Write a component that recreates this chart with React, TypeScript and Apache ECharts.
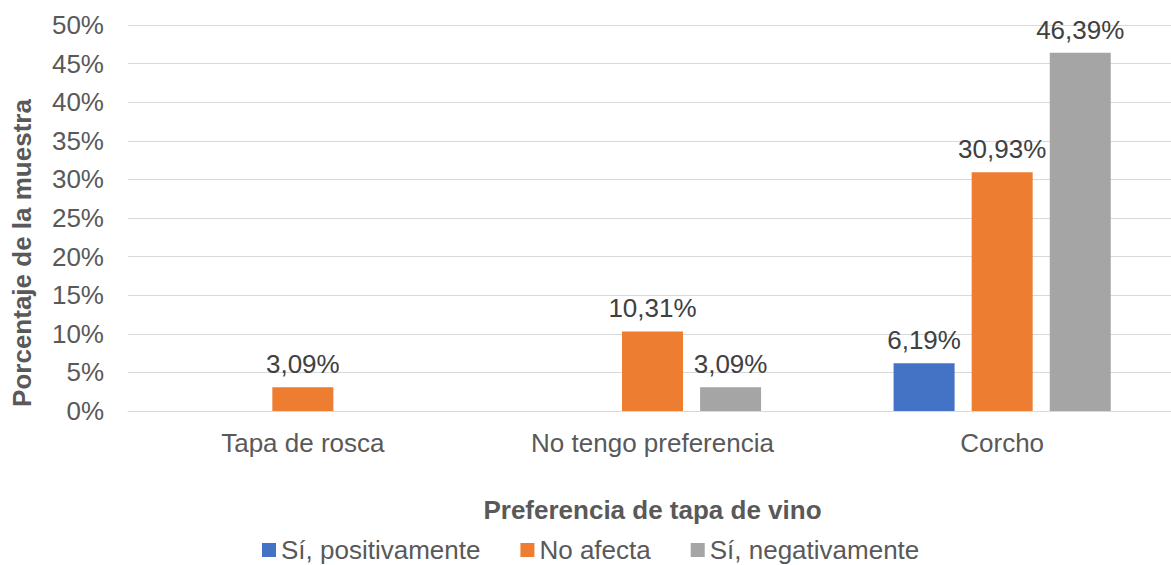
import React, { useEffect, useRef } from "react";
import * as echarts from "echarts";

const categories = ["Tapa de rosca", "No tengo preferencia", "Corcho"];
const seriesNames = ["Sí, positivamente", "No afecta", "Sí, negativamente"];
const positivamente = [0, 0, 6.19];
const noAfecta = [3.09, 10.31, 30.93];
const negativamente = [0, 3.09, 46.39];
const colors = ["#4472C4", "#ED7D31", "#A5A5A5"];
const yTitle = "Porcentaje de la muestra";
const xTitle = "Preferencia de tapa de vino";

const FONT = "'Liberation Sans', Arial, sans-serif";
const FS = 26;

export default function App() {
  const ref = useRef<HTMLDivElement>(null);
  useEffect(() => {
    if (!ref.current) return;
    const chart = echarts.init(ref.current, null, { renderer: "svg" });
    const values = [positivamente, noAfecta, negativamente];
    chart.setOption({
      animation: false,
      textStyle: { fontFamily: FONT },
      grid: { left: 128, width: 1049, top: 25, height: 386, containLabel: false },
      graphic: [
        {
          type: "text",
          x: 22,
          y: 253,
          rotation: Math.PI / 2,
          style: {
            text: yTitle,
            fontSize: FS,
            fontWeight: "bold",
            fill: "#595959",
            fontFamily: FONT,
            align: "center",
            verticalAlign: "middle",
          },
        },
      ],
      legend: {
        top: 532,
        left: 257,
        itemWidth: 14,
        itemHeight: 14,
        itemGap: 40,
        icon: "rect",
        textStyle: { fontSize: FS, color: "#595959", fontFamily: FONT },
        data: seriesNames,
      },
      xAxis: {
        type: "category",
        data: categories,
        name: xTitle,
        nameLocation: "middle",
        nameGap: 86,
        nameTextStyle: { fontSize: FS, fontWeight: "bold", color: "#595959", fontFamily: FONT, verticalAlign: "top" },
        axisLine: { lineStyle: { color: "#D9D9D9" } },
        axisTick: { show: false },
        axisLabel: { fontSize: FS, color: "#595959", margin: 19, fontFamily: FONT },
      },
      yAxis: {
        type: "value",
        min: 0,
        max: 50,
        interval: 5,
        axisLine: { show: false },
        axisTick: { show: false },
        axisLabel: { formatter: "{value}%", fontSize: FS, color: "#595959", margin: 24, fontFamily: FONT },
        splitLine: { lineStyle: { color: "#D9D9D9", width: 1 } },
      },
      series: seriesNames.map((name, i) => ({
        name,
        type: "bar",
        data: values[i],
        barWidth: 61,
        barGap: "28%",
        itemStyle: { color: colors[i] },
        label: {
          show: true,
          position: "top",
          distance: 10,
          fontSize: FS,
          color: "#404040",
          fontFamily: FONT,
          formatter: (p: any) => (p.value ? p.value.toFixed(2).replace(".", ",") + "%" : ""),
        },
      })),
    });
    return () => chart.dispose();
  }, []);
  return (
    <div
      style={{ position: "fixed", left: 0, top: 0, width: 1171, height: 565, overflow: "hidden", background: "#fff" }}
    >
      <div ref={ref} style={{ width: 1190, height: 565 }} />
    </div>
  );
}
